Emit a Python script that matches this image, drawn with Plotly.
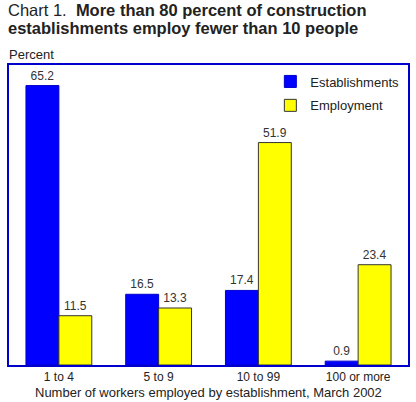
import plotly.graph_objects as go

# sizes of establishment (number of workers)
categories = ["1 to 4", "5 to 9", "10 to 99", "100 or more"]
establishments = [65.2, 16.5, 17.4, 0.9]
employment = [11.5, 13.3, 51.9, 23.4]

fig = go.Figure()
fig.add_trace(go.Bar(x=categories, y=establishments, name="Establishments", legendgroup="est",
                     marker=dict(color="#0000FF", line=dict(color="#0000CC", width=1)),
                     text=[f"{v:.1f}" for v in establishments], textposition="outside",
                     textfont=dict(size=12, color="#333333"), cliponaxis=False))
fig.add_trace(go.Bar(x=categories, y=employment, name="Employment", legendgroup="emp",
                     marker=dict(color="#FFFF00", line=dict(color="#333333", width=1)),
                     text=[f"{v:.1f}" for v in employment], textposition="outside",
                     textfont=dict(size=12, color="#333333"), cliponaxis=False))

fig.update_layout(
    width=416, height=402,
    margin=dict(l=9, r=8, t=65, b=37),
    paper_bgcolor="white", plot_bgcolor="white",
    font=dict(family="Liberation Sans, Arial, sans-serif", color="#222222"),
    barmode="group", bargap=0.34, bargroupgap=0,
    showlegend=True,
    legend=dict(x=0.655, y=0.995, xanchor="left", yanchor="top",
                font=dict(size=13, color="#222222"), bgcolor="rgba(0,0,0,0)",
                tracegroupgap=4),
    xaxis=dict(showline=True, linecolor="#0000CC", linewidth=2, mirror=True,
               automargin=False,
               ticks="", tickfont=dict(size=12, color="#222222"), ticklabelstandoff=0),
    yaxis=dict(range=[0, 70], showline=True, linecolor="#0000CC", linewidth=2, mirror=True,
               automargin=False,
               showgrid=False, zeroline=False, showticklabels=False, ticks=""),
    annotations=[
        dict(xref="paper", yref="paper", x=0, y=1, xshift=-3, yshift=66,
             xanchor="left", yanchor="top", align="left", showarrow=False,
             text="Chart 1.  <b>More than 80 percent of construction</b>",
             font=dict(size=16.5, color="#222222")),
        dict(xref="paper", yref="paper", x=0, y=1, xshift=-3, yshift=48,
             xanchor="left", yanchor="top", align="left", showarrow=False,
             text="<b>establishments employ fewer than 10 people</b>",
             font=dict(size=16.5, color="#222222")),
        dict(xref="paper", yref="paper", x=0, y=1, xshift=-2, yshift=1,
             xanchor="left", yanchor="bottom", showarrow=False,
             text="Percent", font=dict(size=13, color="#222222")),
        dict(xref="paper", yref="paper", x=0.5, y=0, yshift=-37,
             xanchor="center", yanchor="bottom", showarrow=False,
             text="Number of workers employed by establishment, March 2002",
             font=dict(size=13, color="#222222")),
    ],
)

fig.write_html("out.html", config={"displayModeBar": False},
               post_script="document.body.style.margin='0';")
